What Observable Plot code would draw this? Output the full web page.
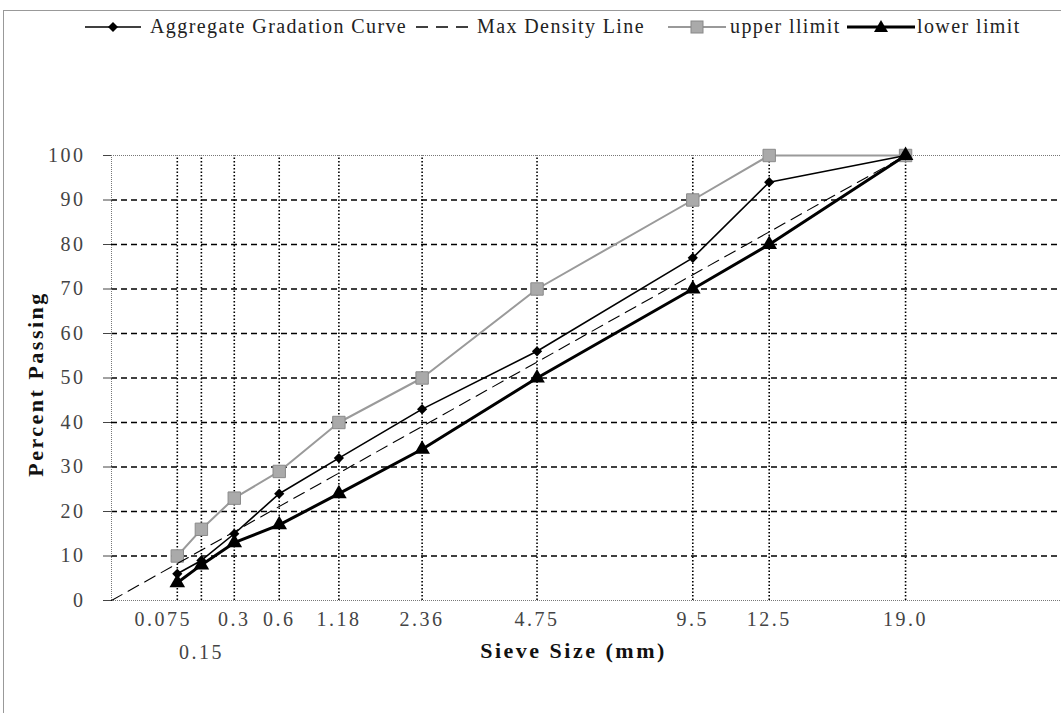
<!DOCTYPE html>
<html>
<head>
<meta charset="utf-8">
<script src="https://cdn.jsdelivr.net/npm/d3@7"></script>
<script src="https://cdn.jsdelivr.net/npm/@observablehq/plot@0.6"></script>
<style>
  body { margin: 0; background: #fff; }
  #wrap { position: relative; width: 1061px; height: 713px; overflow: hidden; font-family: "Liberation Serif", "Times New Roman", serif; background: #fff; }
  #border { position: absolute; left: 3px; top: 10px; width: 1100px; height: 760px; border-left: 1px solid #999; border-top: 1px solid #999; pointer-events: none; }
  #legend { position: relative; height: 55px; }
  #legend .sw { position: absolute; top: 19px; }
  #legend .lt { position: absolute; top: 14px; font-size: 20px; letter-spacing: 1.4px; color: #222; white-space: nowrap; line-height: 24px; }
  #chart svg text { letter-spacing: 2.5px; }
  #chart svg text.title { letter-spacing: 1.5px; }
</style>
</head>
<body>
<div id="wrap">
  <div id="legend"></div>
  <div id="chart"></div>
  <div id="border"></div>
</div>
<script>
// ---- data ----
const sieveSizes  = [0.075, 0.15, 0.3, 0.6, 1.18, 2.36, 4.75, 9.5, 12.5, 19];
const sieveLabels = ["0.075", "0.15", "0.3", "0.6", "1.18", "2.36", "4.75", "9.5", "12.5", "19.0"];
const aggregate   = [6, 9, 15, 24, 32, 43, 56, 77, 94, 100];
const upperLimit  = [10, 16, 23, 29, 40, 50, 70, 90, 100, 100];
const lowerLimit  = [4, 8, 13, 17, 24, 34, 50, 70, 80, 100];
const maxDensitySizes  = [0, 19];
const maxDensityValues = [0, 100];
const yTicks = [0, 10, 20, 30, 40, 50, 60, 70, 80, 90, 100];
const seriesNames = ["Aggregate Gradation Curve", "Max Density Line", "upper llimit", "lower limit"];

// ---- legend (HTML) ----
const legend = document.getElementById("legend");
const sw = [
  {left: 85, width: 56, svg: `<line x1="0" x2="56" y1="8" y2="8" stroke="#000" stroke-width="1.6"/><path d="M28,3 L33,8 L28,13 L23,8Z" fill="#000"/>`},
  {left: 416, width: 56, svg: `<line x1="0" x2="56" y1="8" y2="8" stroke="#000" stroke-width="1.5" stroke-dasharray="12,8"/>`},
  {left: 668, width: 58, svg: `<line x1="0" x2="58" y1="8" y2="8" stroke="#999" stroke-width="2"/><rect x="23" y="2" width="12" height="12" fill="#aaa" stroke="#888"/>`},
  {left: 847, width: 68, svg: `<line x1="0" x2="68" y1="8" y2="8" stroke="#000" stroke-width="3"/><path d="M34,1 L41,13 L27,13Z" fill="#000"/>`}
];
const textLeft = [150, 477, 730, 917];
sw.forEach((s, i) => {
  const d = document.createElement("div");
  d.className = "sw";
  d.style.left = s.left + "px";
  d.innerHTML = `<svg width="${s.width}" height="16">${s.svg}</svg>`;
  legend.appendChild(d);
  const t = document.createElement("div");
  t.className = "lt";
  t.style.left = textLeft[i] + "px";
  t.textContent = seriesNames[i];
  legend.appendChild(t);
});

// ---- chart ----
const idx = sieveSizes.map((d, i) => i);
const chart = Plot.plot({
  width: 1061,
  height: 658,
  marginLeft: 111,
  marginTop: 100,
  marginBottom: 113,
  marginRight: 0,
  style: { fontFamily: "Liberation Serif, Times New Roman, serif", background: "transparent", overflow: "visible" },
  x: { type: "pow", exponent: 0.45, domain: [0, 28.3], axis: null },
  y: { domain: [0, 100] },
  marks: [
    Plot.ruleY(yTicks.filter(d => d > 0 && d < 100), { stroke: "#000", strokeWidth: 1.4, strokeDasharray: "6,4" }),
    Plot.ruleX(sieveSizes, { y1: 0, y2: 100, stroke: "#000", strokeWidth: 1.6, strokeDasharray: "1.5,2" }),
    Plot.ruleY([0, 100], { stroke: "#777", strokeWidth: 1, strokeDasharray: "1,1" }),
    Plot.ruleX([0], { y1: 0, y2: 100, stroke: "#777", strokeWidth: 1, strokeDasharray: "1,1" }),
    Plot.axisY({ ticks: yTicks, tickSize: 8, tickPadding: 18, fontSize: 20, label: null, stroke: "#444", fill: "#444", tickFormat: d => String(d) }),
    // x tick labels
    Plot.text(idx, { filter: i => i === 0, x: i => sieveSizes[i], y: () => 0, text: i => sieveLabels[i], dy: 19, dx: -14, fontSize: 20, fill: "#444" }),
    Plot.text(idx, { filter: i => i === 1, x: i => sieveSizes[i], y: () => 0, text: i => sieveLabels[i], dy: 52, fontSize: 20, fill: "#444" }),
    Plot.text(idx, { filter: i => i > 1, x: i => sieveSizes[i], y: () => 0, text: i => sieveLabels[i], dy: 19, fontSize: 20, fill: "#444" }),
    // series
    Plot.line(idx, { x: i => sieveSizes[i], y: i => upperLimit[i], stroke: "#9a9a9a", strokeWidth: 2 }),
    Plot.dot(idx, { x: i => sieveSizes[i], y: i => upperLimit[i], symbol: "square", r: 7, fill: "#aaa", stroke: "#8a8a8a", strokeWidth: 1 }),
    Plot.line(maxDensitySizes, { x: d => d, y: (d, i) => maxDensityValues[i], stroke: "#000", strokeWidth: 1.1, strokeDasharray: "12,7" }),
    Plot.line(idx, { x: i => sieveSizes[i], y: i => aggregate[i], stroke: "#000", strokeWidth: 1.6 }),
    Plot.dot(idx, { x: i => sieveSizes[i], y: i => aggregate[i], symbol: "diamond2", r: 4.6, fill: "#000" }),
    Plot.line(idx, { x: i => sieveSizes[i], y: i => lowerLimit[i], stroke: "#000", strokeWidth: 3 }),
    Plot.dot(idx, { x: i => sieveSizes[i], y: i => lowerLimit[i], symbol: "triangle", r: 5.8, fill: "#000" }),
    // titles
    Plot.text(["Percent Passing"], { frameAnchor: "left", rotate: -90, dx: -76, dy: 6, textAnchor: "middle", fontSize: 22, fontWeight: "bold", fill: "#111", className: "title" }),
    Plot.text(["Sieve Size (mm)"], { frameAnchor: "bottom", dx: -13, dy: 57, textAnchor: "middle", fontSize: 22, fontWeight: "bold", fill: "#111", className: "title" })
  ]
});
document.getElementById("chart").appendChild(chart);
</script>
</body>
</html>
